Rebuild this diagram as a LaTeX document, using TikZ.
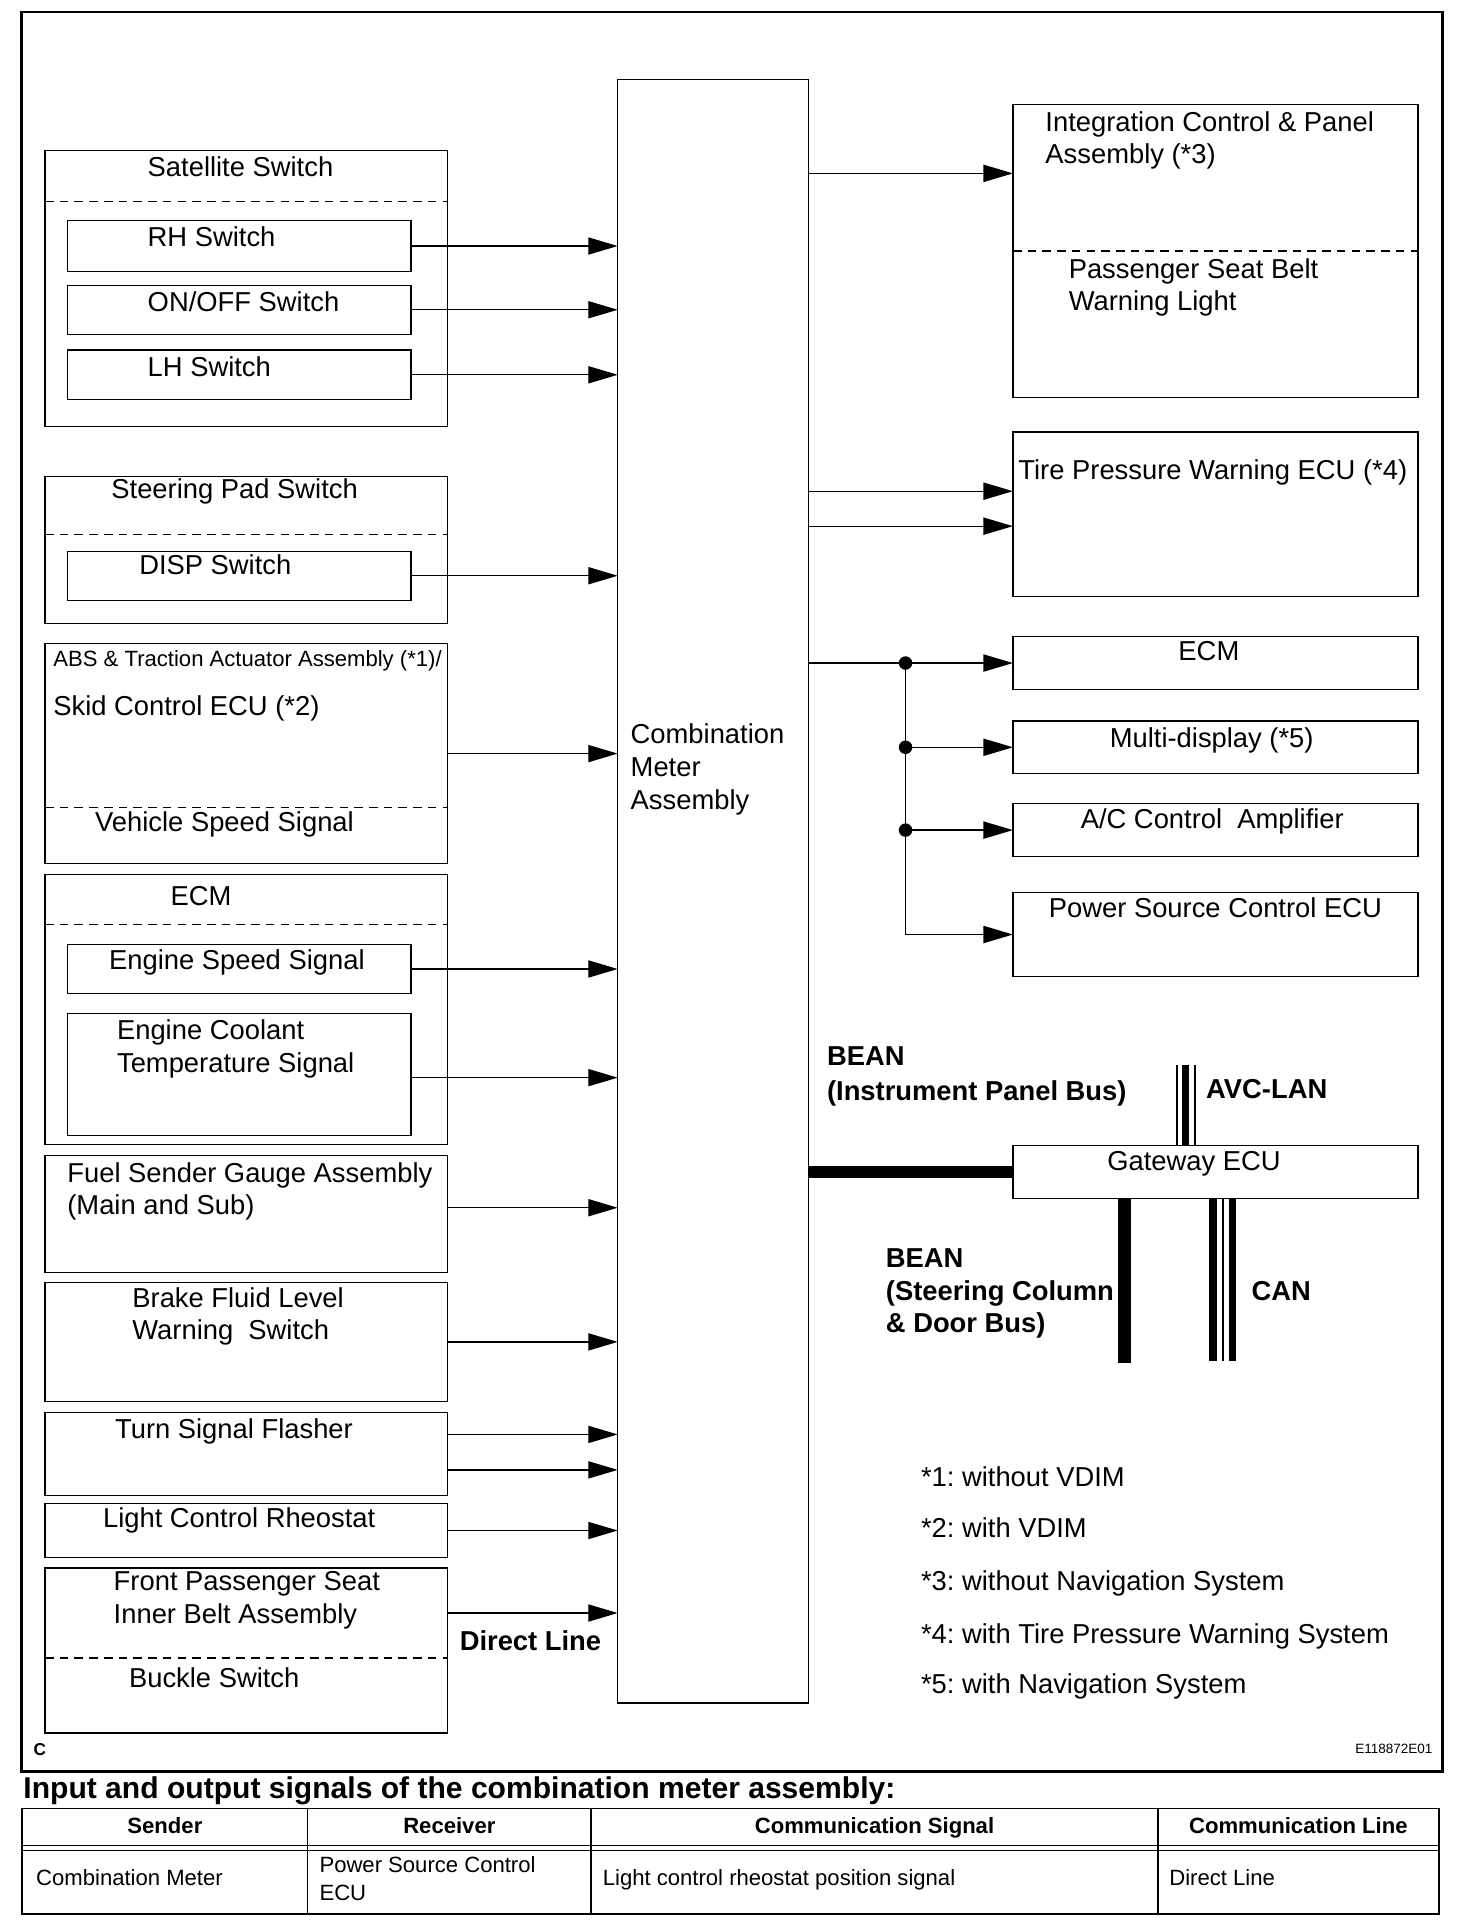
\documentclass[tikz,border=0pt]{standalone}
\usepackage{fontspec}
\setmainfont{Liberation Sans}
\usetikzlibrary{arrows.meta}
\frenchspacing
\newcommand\drbox[5]{\node[box,minimum width={#3-#1},minimum height={#4-#2}] (#5) at (#1,#2) {};}
\begin{document}
\frenchspacing
\begin{tikzpicture}[x=1pt,y=-1pt,
 box/.style={draw,line width=1pt,inner sep=0pt,outer sep=0pt,anchor=north west},
 txt/.style={inner sep=0pt,outer sep=0pt,anchor=base west,font=\fontsize{22.3}{27}\selectfont},
 ctxt/.style={txt,anchor=base},
 btxt/.style={inner sep=0pt,outer sep=0pt,anchor=base west,font=\fontsize{22.3}{27}\selectfont\bfseries},
 stxt/.style={inner sep=0pt,outer sep=0pt,anchor=base west,font=\fontsize{18}{22}\selectfont},
 htxt/.style={inner sep=0pt,outer sep=0pt,anchor=base,font=\fontsize{18}{22}\selectfont\bfseries},
 dline/.style={line width=1pt,dash pattern=on 7pt off 5pt},
 ln/.style={line width=1pt},
 arr/.style={line width=1pt,-{Triangle[length=24pt,width=14pt]}},
 dotn/.style={circle,fill,inner sep=0pt,outer sep=0pt,minimum size=11pt},
 tline/.style={line width=1.5pt},
 bus/.style={line width=10pt},
 busthin/.style={line width=1.5pt},
 busmid/.style={line width=6pt}
]
\useasboundingbox (0,0) rectangle (1187,1568);

% outer frame
\node[draw,line width=2.2pt,inner sep=0pt,outer sep=0pt,anchor=north west,minimum width=1158,minimum height=1433.7] (frame) at (17.3,9.8) {};

% combination meter
\drbox{503.4}{64.7}{658.6}{1387.8}{cm}
\node[txt] (cm1) at (514,606) {Combination};
\node[txt] (cm2) at (514,633) {Meter};
\node[txt] (cm3) at (514,659.5) {Assembly};

% ---- left column ----
\drbox{36.7}{122.8}{364.5}{347.3}{sat}
\draw[dline] ([yshift=-41.2pt]sat.north west) -- ([yshift=-41.2pt]sat.north east);
\node[txt] (tsat) at (120.4,144) {Satellite Switch};
\drbox{54.9}{180}{335}{221}{rh}
\node[txt] (trh) at (120.4,201) {RH Switch};
\drbox{54.9}{232.4}{335}{272.5}{onoff}
\node[txt] (tonoff) at (120.4,254) {ON/OFF Switch};
\drbox{54.9}{285.3}{335}{325.6}{lh}
\node[txt] (tlh) at (120.4,307) {LH Switch};
\draw[arr] (rh.east) -- (rh.east -| cm.west);
\draw[arr] (onoff.east) -- (onoff.east -| cm.west);
\draw[arr] (lh.east) -- (lh.east -| cm.west);

\drbox{36.7}{388.6}{364.5}{508}{sp}
\draw[dline] ([yshift=-46.8pt]sp.north west) -- ([yshift=-46.8pt]sp.north east);
\node[txt] (tsp) at (90.8,406.3) {Steering Pad Switch};
\drbox{54.9}{449.2}{335}{489.2}{disp}
\node[txt] (tdisp) at (113.5,468.2) {DISP Switch};
\draw[arr] (disp.east) -- (disp.east -| cm.west);

\drbox{36.7}{524.5}{364.5}{703.8}{abs}
\node[stxt] (tabs) at (43.5,543.5) {ABS \& Traction Actuator Assembly (*1)/};
\node[txt] (tskid) at (43.5,583) {Skid Control ECU (*2)};
\draw[dline] ([yshift=-133.7pt]abs.north west) -- ([yshift=-133.7pt]abs.north east);
\node[txt] (tvss) at (77.6,678) {Vehicle Speed Signal};
\draw[arr] (abs.east) -- (abs.east -| cm.west);

\drbox{36.7}{712.8}{364.5}{932.7}{ecml}
\node[ctxt] (tecml) at (163.9,737.8) {ECM};
\draw[dline] ([yshift=-40.8pt]ecml.north west) -- ([yshift=-40.8pt]ecml.north east);
\drbox{54.9}{769.6}{335}{809.8}{esp}
\node[txt] (tesp) at (88.9,790.5) {Engine Speed Signal};
\drbox{54.9}{826}{335}{925.3}{ect}
\node[txt] (tect1) at (95.4,847.3) {Engine Coolant};
\node[txt] (tect2) at (95.4,873.7) {Temperature Signal};
\draw[arr] (esp.east) -- (esp.east -| cm.west);
\coordinate (aect) at ([yshift=-2.6pt]ect.east);
\draw[arr] (aect) -- (aect -| cm.west);

\drbox{36.7}{941.6}{364.5}{1037.3}{fuel}
\node[txt] (tfuel1) at (54.9,963.4) {Fuel Sender Gauge Assembly};
\node[txt] (tfuel2) at (54.9,989.8) {(Main and Sub)};
\coordinate (afuel) at ([yshift=5.2pt]fuel.east);
\draw[arr] (afuel) -- (afuel -| cm.west);

\drbox{36.7}{1045}{364.5}{1142.2}{brake}
\node[txt] (tbr1) at (107.9,1065.3) {Brake Fluid Level};
\node[txt] (tbr2) at (107.9,1091.5) {Warning\ \ Switch};
\draw[arr] (brake.east) -- (brake.east -| cm.west);

\drbox{36.7}{1151}{364.5}{1218.8}{turn}
\node[txt] (tturn) at (93.8,1172.5) {Turn Signal Flasher};
\coordinate (aturn1) at ([yshift=15.9pt]turn.east);
\coordinate (aturn2) at ([yshift=-13pt]turn.east);
\draw[arr] (aturn1) -- (aturn1 -| cm.west);
\draw[arr] (aturn2) -- (aturn2 -| cm.west);

\drbox{36.7}{1225}{364.5}{1269.6}{light}
\node[txt] (tlight) at (84,1245) {Light Control Rheostat};
\draw[arr] (light.east) -- (light.east -| cm.west);

\drbox{36.7}{1277.8}{364.5}{1412.3}{front}
\node[txt] (tfr1) at (92.7,1296.3) {Front Passenger Seat};
\node[txt] (tfr2) at (92.7,1323.4) {Inner Belt Assembly};
\draw[dline] ([yshift=-73.4pt]front.north west) -- ([yshift=-73.4pt]front.north east);
\node[txt] (tbuckle) at (105.2,1375) {Buckle Switch};
\coordinate (afront) at ([yshift=30.5pt]front.east);
\draw[arr] (afront) -- (afront -| cm.west);
\node[btxt] (tdirect) at (374.7,1345.2) {Direct Line};

% ---- right column ----
\drbox{825.5}{85}{1155.6}{324}{icp}
\node[txt] (ticp1) at (852,107.4) {Integration Control \& Panel};
\node[txt] (ticp2) at (852,133.5) {Assembly (*3)};
\draw[dline] ([yshift=-119.6pt]icp.north west) -- ([yshift=-119.6pt]icp.north east);
\node[txt] (ticp3) at (871,227) {Passenger Seat Belt};
\node[txt] (ticp4) at (871,253) {Warning Light};
\coordinate (aicp) at ([yshift=63.2pt]icp.west);
\draw[arr] (aicp -| cm.east) -- (aicp);

\drbox{825.5}{352}{1155.6}{486.4}{tpw}
\node[txt] (ttpw) at (830,391) {Tire Pressure Warning ECU (*4)};
\coordinate (atpw1) at ([yshift=18.9pt]tpw.west);
\coordinate (atpw2) at ([yshift=-9.6pt]tpw.west);
\draw[arr] (atpw1 -| cm.east) -- (atpw1);
\draw[arr] (atpw2 -| cm.east) -- (atpw2);

\drbox{825.5}{519}{1155.6}{561.7}{ecmr}
\node[ctxt] (tecmr) at (985.2,538.5) {ECM};
\drbox{825.5}{587.5}{1155.6}{630.5}{md}
\node[ctxt] (tmd) at (987.5,609) {Multi-display (*5)};
\drbox{825.5}{655}{1155.6}{698}{ac}
\node[ctxt] (tac) at (988,675.5) {A/C Control\ \ Amplifier};
\drbox{825.5}{727.5}{1155.6}{795.7}{psc}
\node[ctxt] (tpsc) at (990.5,748) {Power Source Control ECU};

\coordinate (bx) at (738,0);
\node[dotn] (d1) at (bx |- ecmr.west) {};
\node[dotn] (d2) at (bx |- md.west) {};
\node[dotn] (d3) at (bx |- ac.west) {};
\coordinate (d4) at (bx |- psc.west);
\draw[ln] (d1 -| cm.east) -- (d1.center);
\draw[ln] (d1.center) -- (d4);
\draw[arr] (d1.center) -- (ecmr.west);
\draw[arr] (d2.center) -- (md.west);
\draw[arr] (d3.center) -- (ac.west);
\draw[arr] (d4) -- (psc.west);

% gateway and buses
\drbox{825.5}{933.5}{1155.6}{977}{gw}
\node[ctxt] (tgw) at (973.1,954) {Gateway ECU};
\draw[bus] (gw.west -| cm.east) -- (gw.west);

\coordinate (v1) at (959,867.6);
\coordinate (v2) at (966.3,867.6);
\coordinate (v3) at (973.7,867.6);
\draw[busthin] (v1) -- (v1 |- gw.north);
\draw[busmid] (v2) -- (v2 |- gw.north);
\draw[busthin] (v3) -- (v3 |- gw.north);

\coordinate (c1) at (988.5,1108.8);
\coordinate (c2) at (996.6,1108.8);
\coordinate (c3) at (1004.3,1108.8);
\draw[busmid] (c1 |- gw.south) -- (c1);
\draw[busthin] (c2 |- gw.south) -- (c2);
\draw[busmid] (c3 |- gw.south) -- (c3);

\coordinate (b2) at (916.7,1111);
\draw[line width=10.5pt] (b2 |- gw.south) -- (b2);

\node[btxt] (tbean1) at (674,868) {BEAN};
\node[btxt] (tbean2) at (674,896.8) {(Instrument Panel Bus)};
\node[btxt] (tavc) at (983,895) {AVC-LAN};
\node[btxt] (tbean3) at (722,1032.7) {BEAN};
\node[btxt] (tbean4) at (722,1059.8) {(Steering Column};
\node[btxt] (tbean5) at (722,1085.7) {\& Door Bus)};
\node[btxt] (tcan) at (1020,1059.8) {CAN};

% footnotes
\node[txt] (fn1) at (750.6,1211.3) {*1: without VDIM};
\node[txt] (fn2) at (750.6,1253) {*2: with VDIM};
\node[txt] (fn3) at (750.6,1296.3) {*3: without Navigation System};
\node[txt] (fn4) at (750.6,1339.5) {*4: with Tire Pressure Warning System};
\node[txt] (fn5) at (750.6,1380) {*5: with Navigation System};

\node[inner sep=0pt,anchor=base west,font=\fontsize{14}{16}\selectfont\bfseries] (tc) at (27.3,1430.8) {C};
\node[inner sep=0pt,anchor=base west,font=\fontsize{11}{13}\selectfont] (tcode) at (1104.4,1429.4) {E118872E01};

% title and table
\node[inner sep=0pt,anchor=base west,font=\fontsize{24.5}{28}\selectfont\bfseries] (title) at (18.9,1466) {Input and output signals of the combination meter assembly:};

\draw[tline] (18.2,1473.8) rectangle (1172.6,1560);
\draw[tline] (250.6,1473.8) -- (250.6,1560);
\draw[tline] (481.8,1473.8) -- (481.8,1560);
\draw[tline] (943.6,1473.8) -- (943.6,1560);
\draw[line width=1.4pt] (18.2,1504.1) -- (1172.6,1504.1);
\draw[line width=1.4pt] (18.2,1508.1) -- (1172.6,1508.1);

\node[htxt] (h1) at (134.4,1494.6) {Sender};
\node[htxt] (h2) at (366.2,1494.6) {Receiver};
\node[htxt] (h3) at (712.7,1494.6) {Communication Signal};
\node[htxt] (h4) at (1058.1,1494.6) {Communication Line};

\node[stxt] (r1) at (29.5,1536.8) {Combination Meter};
\node[stxt] (r2a) at (260.4,1525.9) {Power Source Control};
\node[stxt] (r2b) at (260.4,1549) {ECU};
\node[stxt] (r3) at (491.3,1536.8) {Light control rheostat position signal};
\node[stxt] (r4) at (953,1536.8) {Direct Line};
\end{tikzpicture}
\end{document}
